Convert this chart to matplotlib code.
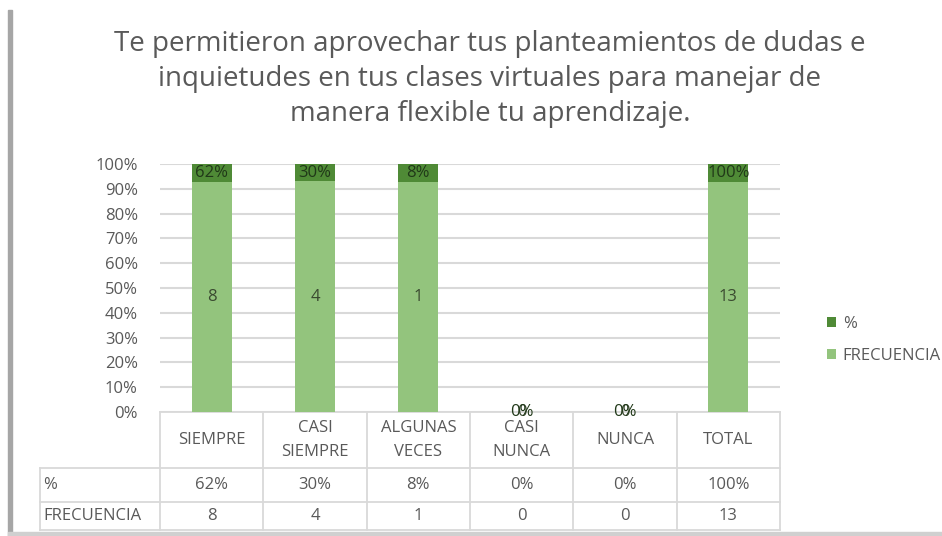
import numpy as np
import matplotlib
matplotlib.use("Agg")
import matplotlib.pyplot as plt
from matplotlib.patches import Rectangle

plt.rcParams['font.family'] = ['Open Sans', 'DejaVu Sans']

categories = ["SIEMPRE", "CASI\nSIEMPRE", "ALGUNAS\nVECES", "CASI\nNUNCA", "NUNCA", "TOTAL"]
frecuencia = [8, 4, 1, 0, 0, 13]
porcentaje = [0.62, 0.30, 0.08, 0.0, 0.0, 1.00]
pct_labels = ["62%", "30%", "8%", "0%", "0%", "100%"]
row_labels = ["%", "FRECUENCIA"]

title = ("Te permitieron aprovechar tus planteamientos de dudas e\n"
         "inquietudes en tus clases virtuales para manejar de\n"
         "manera flexible tu aprendizaje.")

light = "#93c47d"
dark = "#4f8a36"
grey = "#595959"
line_c = "#d9d9d9"
fs = 12

W, H = 942, 536
fig = plt.figure(figsize=(W / 100, H / 100), dpi=100)

# screenshot frame
fig.patches.append(Rectangle((8 / W, 0), 4 / W, 1 - 10 / H, transform=fig.transFigure,
                             color="#a6a6a6", zorder=0))
fig.patches.append(Rectangle((8 / W, 0), 1, 4 / H, transform=fig.transFigure,
                             color="#d0d0d0", zorder=0))

ax = fig.add_axes([160 / W, 1 - 412 / H, 620 / W, 248 / H])

# 100% stacked shares
frec = np.array(frecuencia, dtype=float)
pct = np.array(porcentaje, dtype=float)
tot = frec + pct
tot[tot == 0] = 1
frec_share = frec / tot
pct_share = pct / tot

x = np.arange(len(categories))
b1 = ax.bar(x, frec_share, width=0.39, color=light, label="FRECUENCIA", zorder=3)
b2 = ax.bar(x, pct_share, width=0.39, bottom=frec_share, color=dark, label="%", zorder=3)

ax.bar_label(b1, labels=[str(v) for v in frecuencia], label_type="center",
             fontsize=fs, color="#3a4a30", zorder=4)
ax.bar_label(b2, labels=pct_labels, label_type="center",
             fontsize=fs, color="#203818", zorder=4)

ax.set_xlim(-0.5, len(categories) - 0.5)
ax.set_ylim(0, 1)
ax.set_yticks(np.arange(0, 1.01, 0.1))
ax.set_yticklabels([f"{int(round(t * 100))}%" for t in np.arange(0, 1.01, 0.1)],
                   fontsize=fs, color=grey)
ax.tick_params(axis="y", length=0, pad=16)
ax.set_xticks([])
ax.grid(axis="y", color=line_c, linewidth=1.5, zorder=0)
for s in ax.spines.values():
    s.set_visible(False)

# data table under the plot
tr = ax.get_xaxis_transform()
col_w = 620 / len(categories)
lab_left = -0.5 - 120 / col_w
rows_y = [0, -56 / 248, -90 / 248, -118 / 248]

def hline(x0, x1, y):
    ax.plot([x0, x1], [y, y], color=line_c, lw=1.3, transform=tr, clip_on=False)

def vline(xx, y0, y1):
    ax.plot([xx, xx], [y0, y1], color=line_c, lw=1.3, transform=tr, clip_on=False)

hline(-0.5, len(categories) - 0.5, rows_y[0])
for y in rows_y[1:]:
    hline(lab_left, len(categories) - 0.5, y)
for i in range(len(categories) + 1):
    vline(i - 0.5, rows_y[0], rows_y[3])
vline(lab_left, rows_y[1], rows_y[3])

for i, c in enumerate(categories):
    ax.text(i, (rows_y[0] + rows_y[1]) / 2, c, transform=tr, ha="center", va="center",
            fontsize=fs, color=grey, linespacing=1.6)
    ax.text(i, (rows_y[1] + rows_y[2]) / 2, pct_labels[i], transform=tr,
            ha="center", va="center", fontsize=fs, color=grey)
    ax.text(i, (rows_y[2] + rows_y[3]) / 2, str(frecuencia[i]), transform=tr,
            ha="center", va="center", fontsize=fs, color=grey)
for j, r in enumerate(row_labels):
    ax.text(lab_left + 0.03, (rows_y[j + 1] + rows_y[j + 2]) / 2, r, transform=tr,
            ha="left", va="center", fontsize=fs, color=grey)

fig.text(490 / W, 1 - 79 / H, title, ha="center", va="center", fontsize=20,
         color=grey, linespacing=1.32)

handles, labels = ax.get_legend_handles_labels()
fig.legend(handles[::-1], labels[::-1], loc="center left",
           bbox_to_anchor=(812 / W, 1 - 340 / H), frameon=False, fontsize=fs,
           labelcolor=grey, handlelength=0.55, handleheight=0.55, handletextpad=0.4,
           labelspacing=1.0)

fig.savefig("out.png", dpi=100, facecolor="white")
